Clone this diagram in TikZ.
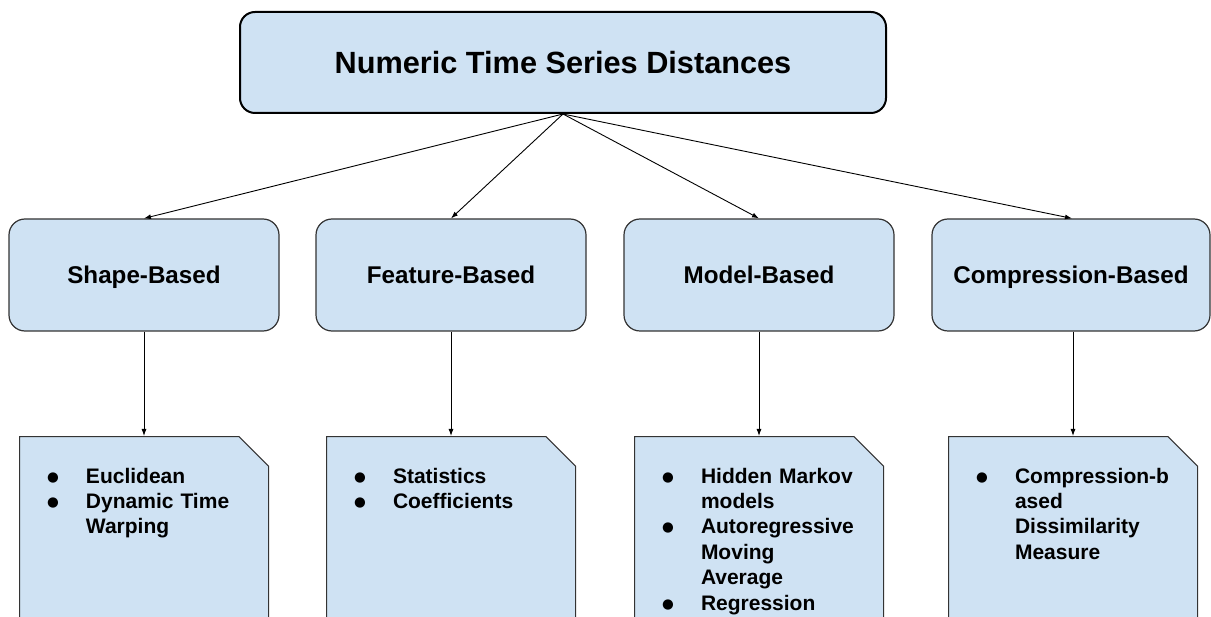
\documentclass[tikz,border=0pt]{standalone}
\usepackage{fontspec}
\usepackage{xcolor}
\usepackage{tikz}
\usetikzlibrary{arrows.meta}
\setmainfont{Liberation Sans}
\newfontfamily\dotfont{DejaVu Sans}
\definecolor{boxblue}{HTML}{CFE2F3}
\definecolor{boxline}{HTML}{333333}
\newcommand{\bul}{\makebox[39pt][l]{\raisebox{2pt}{\dotfont\fontsize{13.5}{13}\selectfont ●}}}

\begin{document}
\begin{tikzpicture}[x=1pt,y=-1pt,
                topbox/.style={draw=black,line width=2pt,fill=boxblue,rounded corners=15pt,
                    minimum width=646pt,minimum height=101pt,
                    font=\fontsize{30.7}{36}\selectfont\bfseries},
                groupbox/.style={draw=boxline,line width=1.2pt,fill=boxblue,rounded corners=16pt,
                    minimum width=270pt,minimum height=112pt,text height=17.4pt,text depth=0pt,
                    font=\fontsize{24.2}{29}\selectfont\bfseries},
                listbox/.style={anchor=north,fill=white,inner xsep=28pt,inner ysep=29.2pt,
                    text width=194pt,align=left,text height=17.8pt,text depth=200pt,
                    font=\fontsize{21}{25.4}\selectfont\bfseries,
                    path picture={\draw[boxline,line width=1pt,fill=boxblue]
                        ([shift={(0.5pt,-0.5pt)}]path picture bounding box.north west)
                        -- ([shift={(-30pt,-0.5pt)}]path picture bounding box.north east)
                        -- ([shift={(-0.5pt,-30pt)}]path picture bounding box.north east)
                        -- ([shift={(-0.5pt,0.5pt)}]path picture bounding box.south east)
                        -- ([shift={(0.5pt,0.5pt)}]path picture bounding box.south west) -- cycle;}},
                link/.style={-{Latex[length=7pt,width=5pt]},line width=0.9pt}]
    \path[use as bounding box,clip] (0,0) rectangle (1211,617);
    \node[topbox] (root) at (563,62.5) {Numeric Time Series Distances};
    \node[groupbox] (shape) at (144,275) {Shape-Based};
    \node[groupbox] (feature) at (451,275) {Feature-Based};
    \node[groupbox] (model) at (759,275) {Model-Based};
    \node[groupbox,minimum width=278pt] (compression) at (1071,275) {Compression-Based};
    \node[listbox] (shapeList) at (144,436) {\begin{tabular}[t]{@{}l@{}l@{}}
            \bul & Euclidean\\
            \bul & Dynamic Time\\
                 & Warping
        \end{tabular}};
    \node[listbox] (featureList) at (451,436) {\begin{tabular}[t]{@{}l@{}l@{}}
            \bul & Statistics\\
            \bul & Coefficients
        \end{tabular}};
    \node[listbox] (modelList) at (759,436) {\begin{tabular}[t]{@{}l@{}l@{}}
            \bul & Hidden Markov\\
                 & models\\
            \bul & Autoregressive\\
                 & Moving\\
                 & Average\\
            \bul & Regression
        \end{tabular}};
    \node[listbox] (compressionList) at (1073,436) {\begin{tabular}[t]{@{}l@{}l@{}}
            \bul & Compression-b\\
                 & ased\\
                 & Dissimilarity\\
                 & Measure
        \end{tabular}};
    \draw[link] (root.south) -- (shape.north);
    \draw[link] (root.south) -- (feature.north);
    \draw[link] (root.south) -- (model.north);
    \draw[link] (root.south) -- ([xshift=1pt]compression.north);
    \draw[link] (shape.south) -- (shapeList.north);
    \draw[link] (feature.south) -- (featureList.north);
    \draw[link] (model.south) -- (modelList.north);
    \draw[link] (compression.south -| compressionList.north) -- (compressionList.north);
\end{tikzpicture}
\end{document}
